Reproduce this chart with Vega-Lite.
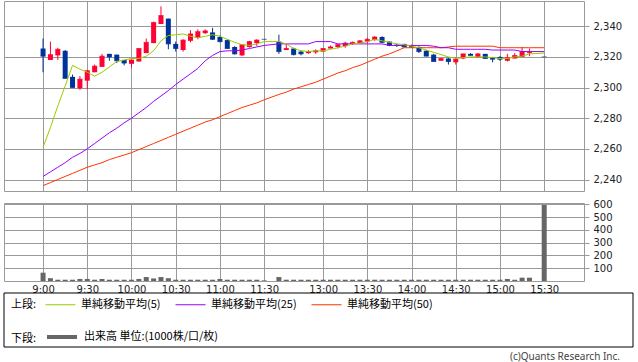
{
  "$schema": "https://vega.github.io/schema/vega-lite/v6.json",
  "background": "white",
  "padding": {"left": 3, "top": 0, "right": 0, "bottom": 0},
  "bounds": "flush",
  "spacing": 12,
  "config": {
    "view": {"stroke": "#999999"},
    "scale": {"continuousPadding": 0},
    "axis": {"labelFont": "DejaVu Sans", "labelFontSize": 10, "labelColor": "#222222", "gridColor": "#999999", "gridOpacity": 1, "tickColor": "#999999", "labelOverlap": false}
  },
  "datasets": {
    "bars": [
      {"i":0,"o":2325.5,"h":2332,"l":2310,"c":2320.5,"v":65,"m5":2261,"m25":2242,"m50":2236},
      {"i":1,"o":2318,"h":2330,"l":2318,"c":2321.5,"v":22,"m5":2274,"m25":2245,"m50":2238},
      {"i":2,"o":2321,"h":2326,"l":2318,"c":2325,"v":10,"m5":2288,"m25":2248,"m50":2240},
      {"i":3,"o":2324,"h":2324.5,"l":2306,"c":2306,"v":10,"m5":2301,"m25":2251,"m50":2242},
      {"i":4,"o":2307,"h":2308.5,"l":2300,"c":2300,"v":10,"m5":2314.5,"m25":2254.5,"m50":2244},
      {"i":5,"o":2299.5,"h":2307.5,"l":2298.5,"c":2305.5,"v":16,"m5":2312,"m25":2257,"m50":2246},
      {"i":6,"o":2304.5,"h":2311.5,"l":2299,"c":2311,"v":16,"m5":2310,"m25":2260,"m50":2248},
      {"i":7,"o":2310,"h":2315,"l":2310,"c":2314,"v":10,"m5":2307.5,"m25":2263.5,"m50":2249.5},
      {"i":8,"o":2313.5,"h":2322,"l":2313.5,"c":2320.5,"v":16,"m5":2310,"m25":2267,"m50":2251},
      {"i":9,"o":2322,"h":2322,"l":2317.5,"c":2320,"v":10,"m5":2313.5,"m25":2270.5,"m50":2253},
      {"i":10,"o":2321.5,"h":2321.5,"l":2316,"c":2317.5,"v":10,"m5":2317,"m25":2273.5,"m50":2254.5},
      {"i":11,"o":2318,"h":2318,"l":2314.5,"c":2316,"v":10,"m5":2318,"m25":2277,"m50":2256},
      {"i":12,"o":2315.5,"h":2318,"l":2313,"c":2318,"v":10,"m5":2319,"m25":2280,"m50":2257.5},
      {"i":13,"o":2317,"h":2325.5,"l":2317,"c":2325.5,"v":16,"m5":2319,"m25":2283.5,"m50":2259.5},
      {"i":14,"o":2322.5,"h":2332,"l":2322.5,"c":2329.5,"v":31,"m5":2320.5,"m25":2287,"m50":2261.5},
      {"i":15,"o":2329,"h":2343,"l":2329,"c":2342.5,"v":20,"m5":2324,"m25":2291,"m50":2263.5},
      {"i":16,"o":2341.5,"h":2353,"l":2341.5,"c":2347,"v":31,"m5":2330.5,"m25":2294.5,"m50":2265.5},
      {"i":17,"o":2345,"h":2345,"l":2325,"c":2328.5,"v":22,"m5":2334,"m25":2298,"m50":2267.5},
      {"i":18,"o":2328.5,"h":2330,"l":2323.5,"c":2325.5,"v":10,"m5":2334.5,"m25":2302,"m50":2269.5},
      {"i":19,"o":2324.5,"h":2331.5,"l":2323.5,"c":2331,"v":10,"m5":2335,"m25":2305.5,"m50":2271.5},
      {"i":20,"o":2330.5,"h":2337.5,"l":2329.5,"c":2335,"v":10,"m5":2333.5,"m25":2309,"m50":2273.5},
      {"i":21,"o":2332.5,"h":2338,"l":2331.5,"c":2336.5,"v":10,"m5":2332.5,"m25":2312.5,"m50":2275.5},
      {"i":22,"o":2335.5,"h":2338,"l":2335,"c":2337,"v":10,"m5":2333.5,"m25":2317.5,"m50":2277.5},
      {"i":23,"o":2336,"h":2339,"l":2331,"c":2331.5,"v":10,"m5":2334.5,"m25":2321,"m50":2279},
      {"i":24,"o":2333,"h":2334,"l":2329.5,"c":2330,"v":16,"m5":2333.5,"m25":2323.5,"m50":2281},
      {"i":25,"o":2331,"h":2331.5,"l":2325.5,"c":2325.5,"v":10,"m5":2331.5,"m25":2324,"m50":2283},
      {"i":26,"o":2326.5,"h":2327,"l":2321.5,"c":2322,"v":10,"m5":2329.5,"m25":2324,"m50":2285},
      {"i":27,"o":2321,"h":2328,"l":2320.5,"c":2328,"v":10,"m5":2328,"m25":2324.5,"m50":2287},
      {"i":28,"o":2326.5,"h":2330.5,"l":2326,"c":2330,"v":10,"m5":2327.5,"m25":2325.5,"m50":2288.5},
      {"i":29,"o":2329,"h":2331.5,"l":2327,"c":2331,"v":10,"m5":2328.5,"m25":2326.5,"m50":2290},
      {"i":30,"o":2331.5,"h":2331.5,"l":2331.5,"c":2331.5,"v":5,"m5":2330,"m25":2327.5,"m50":2292},
      {"i":32,"o":2330,"h":2334.5,"l":2322,"c":2323.5,"v":31,"m5":2330,"m25":2328.5,"m50":2295.5},
      {"i":33,"o":2324.5,"h":2328.5,"l":2324.5,"c":2325.5,"v":10,"m5":2328.5,"m25":2328.5,"m50":2297},
      {"i":34,"o":2325.5,"h":2326,"l":2321,"c":2321.5,"v":10,"m5":2325.5,"m25":2328.5,"m50":2299},
      {"i":35,"o":2323.5,"h":2324.5,"l":2321,"c":2322,"v":10,"m5":2324,"m25":2328.5,"m50":2300.5},
      {"i":36,"o":2322.5,"h":2324.5,"l":2322,"c":2323.5,"v":10,"m5":2323.5,"m25":2328.5,"m50":2302},
      {"i":37,"o":2323,"h":2325,"l":2322,"c":2324,"v":10,"m5":2324,"m25":2330,"m50":2303.5},
      {"i":38,"o":2323.5,"h":2325.5,"l":2323.5,"c":2325.5,"v":10,"m5":2324,"m25":2330,"m50":2305.5},
      {"i":39,"o":2325.5,"h":2327.5,"l":2325.5,"c":2326.5,"v":10,"m5":2325,"m25":2330,"m50":2307.5},
      {"i":40,"o":2326.5,"h":2328.5,"l":2325.5,"c":2328,"v":10,"m5":2326,"m25":2328.5,"m50":2309.5},
      {"i":41,"o":2327,"h":2330,"l":2326,"c":2329,"v":10,"m5":2327,"m25":2328.5,"m50":2311},
      {"i":42,"o":2328.5,"h":2330,"l":2328,"c":2329.5,"v":10,"m5":2328.5,"m25":2328.5,"m50":2313},
      {"i":43,"o":2329,"h":2331,"l":2329,"c":2330.5,"v":10,"m5":2329,"m25":2328.5,"m50":2314.5},
      {"i":44,"o":2330,"h":2332.5,"l":2329,"c":2331.5,"v":10,"m5":2330,"m25":2328.5,"m50":2316.5},
      {"i":45,"o":2331,"h":2333.5,"l":2330.5,"c":2333,"v":10,"m5":2331.5,"m25":2328.5,"m50":2318.5},
      {"i":46,"o":2333,"h":2333.5,"l":2329,"c":2329.5,"v":10,"m5":2330.5,"m25":2328.5,"m50":2320.5},
      {"i":47,"o":2330,"h":2330,"l":2327,"c":2327.5,"v":10,"m5":2329.5,"m25":2327.5,"m50":2322},
      {"i":48,"o":2328,"h":2328.5,"l":2326.5,"c":2327.5,"v":10,"m5":2328.5,"m25":2327.5,"m50":2324},
      {"i":49,"o":2328.5,"h":2328.5,"l":2326.5,"c":2326.5,"v":10,"m5":2328,"m25":2327.5,"m50":2326},
      {"i":50,"o":2327.5,"h":2328,"l":2326,"c":2326.5,"v":10,"m5":2327,"m25":2327.5,"m50":2326},
      {"i":51,"o":2326.5,"h":2327,"l":2322.5,"c":2323.5,"v":10,"m5":2326,"m25":2327.5,"m50":2326},
      {"i":52,"o":2324,"h":2324.5,"l":2320.5,"c":2320.5,"v":10,"m5":2324.5,"m25":2327.5,"m50":2326},
      {"i":53,"o":2321.5,"h":2322,"l":2317,"c":2317,"v":10,"m5":2323,"m25":2327,"m50":2326},
      {"i":54,"o":2317.5,"h":2319,"l":2317.5,"c":2319,"v":10,"m5":2321.5,"m25":2326,"m50":2326},
      {"i":55,"o":2319,"h":2319.5,"l":2315,"c":2317,"v":10,"m5":2320,"m25":2326,"m50":2326.5},
      {"i":56,"o":2316.5,"h":2319.5,"l":2315,"c":2318.5,"v":10,"m5":2319,"m25":2325,"m50":2327},
      {"i":57,"o":2319,"h":2322,"l":2318.5,"c":2322,"v":10,"m5":2319.5,"m25":2325,"m50":2327},
      {"i":58,"o":2322,"h":2322.5,"l":2321,"c":2321,"v":10,"m5":2320,"m25":2325,"m50":2327},
      {"i":59,"o":2320,"h":2322.5,"l":2319.5,"c":2322,"v":10,"m5":2320,"m25":2325,"m50":2327},
      {"i":60,"o":2322,"h":2322,"l":2319,"c":2319,"v":10,"m5":2320,"m25":2325,"m50":2327},
      {"i":61,"o":2319.5,"h":2320,"l":2316.5,"c":2318.5,"v":10,"m5":2319.5,"m25":2324.5,"m50":2327},
      {"i":62,"o":2320,"h":2320.5,"l":2317.5,"c":2318.5,"v":10,"m5":2319,"m25":2324.5,"m50":2326},
      {"i":63,"o":2317.5,"h":2322,"l":2317,"c":2319.5,"v":16,"m5":2319,"m25":2324.5,"m50":2326},
      {"i":64,"o":2319,"h":2322.5,"l":2319,"c":2321,"v":10,"m5":2320,"m25":2324.5,"m50":2326},
      {"i":65,"o":2320,"h":2326.5,"l":2320,"c":2323.5,"v":26,"m5":2320.5,"m25":2323.5,"m50":2326},
      {"i":66,"o":2322.5,"h":2325.5,"l":2320.5,"c":2323,"v":26,"m5":2322,"m25":2323.5,"m50":2326},
      {"i":68,"o":2320,"h":2320,"l":2320,"c":2320,"v":595,"m5":2322.5,"m25":2323.5,"m50":2326}
    ]
  },
  "vconcat": [
    {
      "width": 580,
      "height": 190,
      "data": {"name": "bars"},
      "encoding": {
        "x": {"field": "i", "type": "quantitative",
          "scale": {"domain": [-5.3, 73.4], "nice": false, "zero": false, "padding": 0},
          "axis": {"values": [0, 6, 12, 18, 24, 30, 38, 44, 50, 56, 62, 68], "labels": false, "ticks": false, "domain": false, "grid": true, "title": null}}
      },
      "layer": [
        {
          "mark": {"type": "rule", "strokeWidth": 1},
          "encoding": {
            "y": {"field": "l", "type": "quantitative",
              "scale": {"domain": [2232.5, 2356.5], "nice": false, "zero": false, "padding": 0},
              "axis": {"orient": "right", "values": [2240, 2260, 2280, 2300, 2320, 2340], "format": ",d", "domain": false, "tickSize": 5, "labelPadding": 4, "title": null}},
            "y2": {"field": "h"},
            "color": {"condition": {"test": "datum.c > datum.o", "value": "#ff0033"}, "value": "#003399"}
          }
        },
        {
          "mark": {"type": "bar", "width": 5},
          "encoding": {
            "y": {"field": "o", "type": "quantitative", "axis": {"orient": "right", "values": [2240, 2260, 2280, 2300, 2320, 2340], "format": ",d", "domain": false, "tickSize": 5, "labelPadding": 4, "title": null}},
            "y2": {"field": "c"},
            "color": {"condition": {"test": "datum.c > datum.o", "value": "#ff0033"}, "value": "#003399"}
          }
        },
        {
          "mark": {"type": "tick", "orient": "horizontal", "size": 5, "thickness": 1},
          "encoding": {
            "y": {"field": "c", "type": "quantitative", "axis": {"orient": "right", "values": [2240, 2260, 2280, 2300, 2320, 2340], "format": ",d", "domain": false, "tickSize": 5, "labelPadding": 4, "title": null}},
            "color": {"condition": {"test": "datum.c > datum.o", "value": "#ff0033"}, "value": "#003399"}
          }
        },
        {
          "transform": [{"fold": ["m50", "m25", "m5"], "as": ["key", "val"]}],
          "mark": {"type": "line", "strokeWidth": 1},
          "encoding": {
            "y": {"field": "val", "type": "quantitative", "axis": {"orient": "right", "values": [2240, 2260, 2280, 2300, 2320, 2340], "format": ",d", "domain": false, "tickSize": 5, "labelPadding": 4, "title": null}},
            "color": {"field": "key", "type": "nominal",
              "scale": {"domain": ["m5", "m25", "m50"], "range": ["#99cc00", "#9900ff", "#ff3300"]},
              "legend": {"orient": "none", "legendX": 7, "legendY": 288, "direction": "horizontal",
                "title": "上段:", "titleOrient": "left", "titleAnchor": "middle", "titleBaseline": "top", "titleFont": "Noto Sans CJK JP", "titleFontSize": 11, "titleFontWeight": "normal", "titleColor": "#000000", "titlePadding": 8,
                "labelFont": "Noto Sans CJK JP", "labelFontSize": 11, "labelColor": "#000000", "labelOffset": 5, "labelLimit": 0,
                "symbolType": "stroke", "symbolSize": 900, "symbolStrokeWidth": 1, "columnPadding": 12,
                "labelExpr": "datum.value == 'm5' ? '単純移動平均(5)' : datum.value == 'm25' ? '単純移動平均(25)' : '単純移動平均(50)'"}}
          }
        }
      ]
    },
    {
      "width": 580,
      "height": 78,
      "data": {"name": "bars"},
      "encoding": {
        "x": {"field": "i", "type": "quantitative",
          "scale": {"domain": [-5.3, 73.4], "nice": false, "zero": false, "padding": 0},
          "axis": {"values": [0, 6, 12, 18, 24, 30, 38, 44, 50, 56, 62, 68], "ticks": false, "domain": false, "grid": true, "title": null, "labelPadding": 3,
            "labelExpr": "datum.value <= 30 ? ['9:00','9:30','10:00','10:30','11:00','11:30'][datum.value/6] : ['13:00','13:30','14:00','14:30','15:00','15:30'][(datum.value-38)/6]"}}
      },
      "layer": [
        {
          "mark": {"type": "bar", "width": 5},
          "encoding": {
            "y": {"field": "v", "type": "quantitative",
              "scale": {"domain": [0, 610], "nice": false, "zero": true, "padding": 0},
              "axis": {"orient": "right", "values": [100, 200, 300, 400, 500, 600], "format": "d", "domain": false, "tickSize": 5, "labelPadding": 4, "title": null}},
            "color": {"datum": "出来高 単位:(1000株/口/枚)", "type": "nominal",
              "scale": {"range": ["#666666"]},
              "legend": {"orient": "none", "legendX": 7, "legendY": 117, "direction": "horizontal",
                "title": "下段:", "titleOrient": "left", "titleAnchor": "middle", "titleBaseline": "top", "titleFont": "Noto Sans CJK JP", "titleFontSize": 11, "titleFontWeight": "normal", "titleColor": "#000000", "titlePadding": 8,
                "labelFont": "Noto Sans CJK JP", "labelFontSize": 11, "labelColor": "#000000", "labelOffset": 5, "labelLimit": 0,
                "symbolType": "stroke", "symbolSize": 900, "symbolStrokeWidth": 4, "symbolStrokeColor": "#666666",
                "encode": {"symbols": {"update": {"stroke": {"value": "#666666"}, "strokeWidth": {"value": 4}, "shape": {"value": "stroke"}}}}}
            }
          }
        },
        {
          "data": {"values": [{"t": "単位: 1000"}]},
          "mark": {"type": "text", "align": "left", "baseline": "top", "dx": 5, "dy": 1, "font": "Noto Sans CJK JP", "fontSize": 11, "color": "#000000"},
          "encoding": {
            "x": {"datum": -5.3, "type": "quantitative"},
            "y": {"datum": 610, "type": "quantitative", "axis": {"orient": "right", "values": [100, 200, 300, 400, 500, 600], "format": "d", "domain": false, "tickSize": 5, "labelPadding": 4, "title": null}},
            "text": {"field": "t"}
          }
        }
      ]
    },
    {
      "width": 629,
      "height": 54,
      "view": {"stroke": null},
      "title": {"text": "(c)Quants Research Inc.", "orient": "bottom", "anchor": "end", "frame": "group", "offset": 4, "dx": -13, "font": "Noto Sans", "fontSize": 10, "fontWeight": "normal", "color": "#444444"},
      "data": {"values": [{}]},
      "mark": {"type": "rect", "fill": "white", "fillOpacity": 0, "stroke": "#000000", "strokeWidth": 1},
      "encoding": {}
    }
  ],
  "resolve": {"scale": {"color": "independent", "x": "independent", "y": "independent"}, "legend": {"color": "independent"}}
}
